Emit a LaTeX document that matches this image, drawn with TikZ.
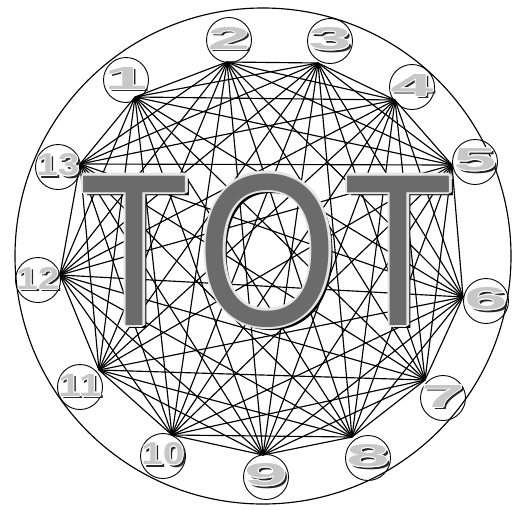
\documentclass[tikz,border=0pt]{standalone}
\usepackage{graphicx}
\usepackage{fontspec}
\setmainfont{Liberation Sans}
\newfontfamily\totfont[FakeStretch=0.83]{Liberation Sans}
\newfontfamily\numfont{Liberation Sans Bold}

% raised grey lettering: shadow, light rim, face
\newcommand{\raisedtext}[5]{%
  \node[#1 shade] at (#3) {#5};
  \foreach \a in {0,45,...,315}
    \node[#1 rim,shift={(\a:#4)}] at (#3) {#5};
  \node[#1 face] (#2) at (#3) {#5};
}
\newcommand{\wide}[1]{\resizebox{43pt}{22pt}{#1}}

\begin{document}
\begin{tikzpicture}[
  x=1pt,y=-1pt,
  edge/.style={line width=1.15pt},
  ring/.style={draw,circle,line width=.9pt,minimum size=45pt,inner sep=0pt},
  tot/.style={font=\totfont\fontsize{217}{217}\selectfont,inner sep=0pt,anchor=base},
  tot shade/.style={tot,text=black,xshift=4pt,yshift=-3.5pt},
  tot rim/.style={tot,text=black!10},
  tot face/.style={tot,text=black!58},
  num/.style={font=\numfont,inner sep=0pt},
  num shade/.style={num,text=black!85,xshift=2.5pt,yshift=-2.5pt},
  num rim/.style={num,text=white},
  num face/.style={num,text=black!22}
]
  \useasboundingbox (0,0) rectangle (526,509);
  \draw[edge] (263,256) circle[radius=248];

  \foreach \i/\vx/\vy/\cx/\cy in {1/135/97/126/80, 2/227/62/229/40, 3/318/63/330/41,
      4/395/100/412/87, 5/452/165/475/162, 6/463/297/486/301, 7/425/380/443/398,
      8/352/437/368/458, 9/263/455/266/477, 10/172/435/163/456, 11/99/370/80/387,
      12/60/275/38/280, 13/80/164/58/167}{
    \coordinate (v\i) at (\vx,\vy);
    \node[ring] (c\i) at (\cx,\cy) {};
  }

  \foreach \i in {1,...,12}{
    \pgfmathtruncatemacro\k{\i+1}
    \foreach \j in {\k,...,13}
      \draw[edge] (v\i) -- (v\j);
  }

  \foreach \i in {1,...,13}{
    \raisedtext{num}{n\i}{[shift={(0,-2)}]c\i.center}{1}{\wide{\i}}
  }

  \raisedtext{tot}{t1}{135,325}{2.6}{T}
  \raisedtext{tot}{o}{268,325}{2.6}{O}
  \raisedtext{tot}{t2}{399,325}{2.6}{T}
\end{tikzpicture}
\end{document}
